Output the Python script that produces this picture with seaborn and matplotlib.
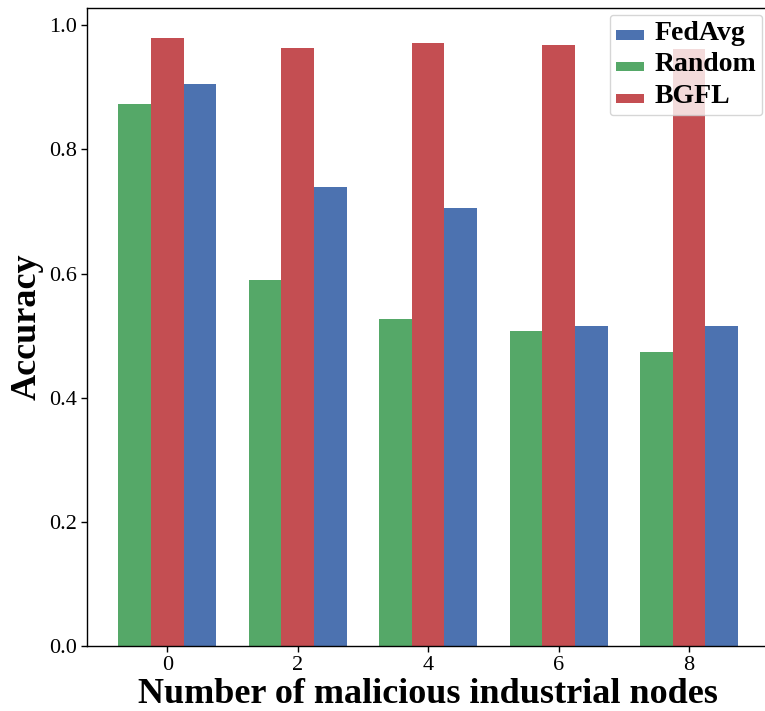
import matplotlib
matplotlib.use("Agg")
import matplotlib.pyplot as plt
import seaborn as sns
import pandas as pd

# Data
nodes = ["0", "2", "4", "6", "8"]
random_acc = [0.874, 0.590, 0.527, 0.508, 0.474]
bgfl_acc = [0.979, 0.963, 0.971, 0.969, 0.962]
fedavg_acc = [0.905, 0.739, 0.705, 0.515, 0.516]
methods = ["Random", "BGFL", "FedAvg"]
legend_order = ["FedAvg", "Random", "BGFL"]
colors = {"Random": "#55A868", "BGFL": "#C44E52", "FedAvg": "#4C72B0"}

rows = []
for m, vals in zip(methods, [random_acc, bgfl_acc, fedavg_acc]):
    for n, v in zip(nodes, vals):
        rows.append({"nodes": n, "method": m, "acc": v})
df = pd.DataFrame(rows)

sns.set_style("ticks")
plt.rcParams["font.family"] = ["Liberation Serif", "DejaVu Serif"]
plt.rcParams["axes.edgecolor"] = "black"
plt.rcParams["axes.labelcolor"] = "black"
plt.rcParams["text.color"] = "black"
plt.rcParams["xtick.color"] = "black"
plt.rcParams["ytick.color"] = "black"

fig = plt.figure(figsize=(7.65, 7.11), dpi=100)
ax = fig.add_axes([87.3 / 765, 1 - 646 / 711, (769 - 87.3) / 765, (646 - 8) / 711])

sns.barplot(data=df, x="nodes", y="acc", hue="method", hue_order=methods,
            palette=colors, saturation=1, width=0.75, ax=ax, errorbar=None,
            linewidth=0)

ax.set_xlim(-0.6125, 4.6125)
ax.set_ylim(0, 1.0279)
ax.set_yticks([0.0, 0.2, 0.4, 0.6, 0.8, 1.0])
ax.set_yticklabels(["0.0", "0.2", "0.4", "0.6", "0.8", "1.0"])
ax.tick_params(axis="both", labelsize=16, length=4, width=1)
for s in ax.spines.values():
    s.set_linewidth(1.0)
    s.set_color("black")

ax.set_xlabel("Number of malicious industrial nodes", fontsize=26,
              fontweight="bold", labelpad=2)
ax.set_ylabel("Accuracy", fontsize=26, fontweight="bold")

handles, labels = ax.get_legend_handles_labels()
hmap = dict(zip(labels, handles))
leg = ax.legend([hmap[l] for l in legend_order], legend_order, loc="upper right",
                fontsize=10)
for t in leg.get_texts():
    t.set_fontsize(20)
    t.set_fontweight("bold")
    t.set_color("black")

fig.savefig("out.png", dpi=100)
